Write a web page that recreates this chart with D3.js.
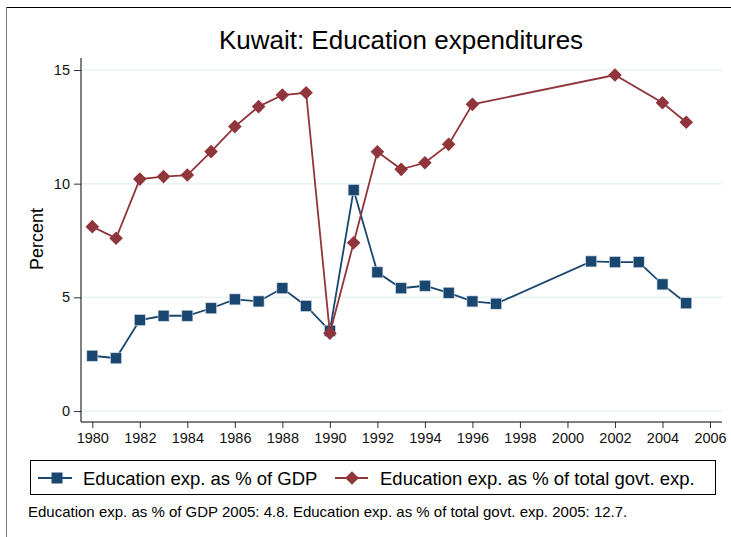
<!DOCTYPE html>
<html>
<head>
<meta charset="utf-8">
<script src="https://cdn.jsdelivr.net/npm/d3@7"></script>
<style>
  body { margin: 0; background: #fff; }
  svg { display: block; font-family: "Liberation Sans", Arial, sans-serif; }
</style>
</head>
<body>
<div id="chart"></div>
<script>
// datos
const years = [1980, 1981, 1982, 1983, 1984, 1985, 1986, 1987, 1988, 1989,
               1990, 1991, 1992, 1993, 1994, 1995, 1996, 1997, 1998, 1999,
               2000, 2001, 2002, 2003, 2004, 2005];
const gdpShare = [2.43, 2.32, 4.0, 4.19, 4.19, 4.52, 4.91, 4.82, 5.4, 4.62,
                  3.53, 9.72, 6.1, 5.4, 5.51, 5.2, 4.82, 4.72, null, null,
                  null, 6.58, 6.55, 6.55, 5.57, 4.74];
const govtShare = [8.11, 7.6, 10.2, 10.31, 10.38, 11.41, 12.51, 13.39, 13.9, 14.0,
                   3.42, 7.4, 11.4, 10.63, 10.92, 11.73, 13.49, null, null, null,
                   null, null, 14.78, null, 13.56, 12.7];
const xTicks = d3.range(1980, 2007, 2);
const yTicks = [0, 5, 10, 15];
const seriesNames = ['Education exp. as % of GDP', 'Education exp. as % of total govt. exp.'];
const titleText = 'Kuwait: Education expenditures';
const noteText = 'Education exp. as % of GDP 2005: 4.8. Education exp. as % of total govt. exp. 2005: 12.7.';

const navy = '#1a476f';
const maroon = '#90353b';
const FONT = '"Liberation Sans", Arial, sans-serif';

const width = 731, height = 537;
const svg = d3.select('#chart').append('svg')
    .attr('width', width)
    .attr('height', height);

// marco exterior
svg.append('line').attr('x1', 6).attr('x2', width).attr('y1', 7.5).attr('y2', 7.5)
    .attr('stroke', '#000').attr('stroke-width', 1.2);
svg.append('line').attr('x1', 6.5).attr('x2', 6.5).attr('y1', 7).attr('y2', height)
    .attr('stroke', '#777').attr('stroke-width', 1);

const plot = { left: 81, right: 722, top: 58, bottom: 422 };

const x = d3.scaleLinear().domain([1980, 2006]).range([92.3, 710]);
const y = d3.scaleLinear().domain([0, 15]).range([411, 70]);

// título
svg.append('text')
    .attr('x', 401).attr('y', 49)
    .attr('text-anchor', 'middle')
    .attr('font-size', 26)
    .attr('fill', '#000')
    .text(titleText);

// rejilla
svg.append('g').selectAll('line')
    .data(yTicks)
    .enter().append('line')
    .attr('x1', plot.left + 1).attr('x2', plot.right)
    .attr('y1', d => y(d)).attr('y2', d => y(d))
    .attr('stroke', '#eaf2f3').attr('stroke-width', 1.5);

// eje Y
const yAxis = svg.append('g')
    .attr('transform', `translate(${plot.left},0)`)
    .call(d3.axisLeft(y).tickValues(yTicks).tickSize(7).tickPadding(4).tickSizeOuter(0));
yAxis.select('.domain').remove();
yAxis.append('line').attr('x1', 0).attr('x2', 0).attr('y1', plot.top).attr('y2', plot.bottom)
    .attr('stroke', '#000').attr('stroke-width', 1);
yAxis.selectAll('.tick line').attr('stroke', '#333');
yAxis.selectAll('.tick text').attr('font-size', 14.5).attr('fill', '#111')
    .attr('font-family', FONT);

// eje X
const xAxis = svg.append('g')
    .attr('transform', `translate(0,${plot.bottom})`)
    .call(d3.axisBottom(x).tickValues(xTicks).tickFormat(d3.format('d')).tickSize(6).tickPadding(5).tickSizeOuter(0));
xAxis.select('.domain').remove();
xAxis.append('line').attr('x1', plot.left).attr('x2', plot.right).attr('y1', 0).attr('y2', 0)
    .attr('stroke', '#000').attr('stroke-width', 1);
xAxis.selectAll('.tick line').attr('stroke', '#333');
xAxis.selectAll('.tick text').attr('font-size', 14.5).attr('fill', '#111')
    .attr('font-family', FONT);

// etiqueta Y
svg.append('text')
    .attr('transform', `translate(43,239) rotate(-90)`)
    .attr('text-anchor', 'middle')
    .attr('font-size', 18)
    .attr('fill', '#000')
    .text('Percent');

function seriesPoints(vals) {
    return years.map((yr, i) => ({ year: yr, value: vals[i] })).filter(d => d.value !== null);
}

const line = d3.line().x(d => x(d.year)).y(d => y(d.value));

function diamondPath(s) {
    return `M0,${-s}L${s},0L0,${s}L${-s},0Z`;
}

const gdpPts = seriesPoints(gdpShare);
const govPts = seriesPoints(govtShare);

// línea PIB
svg.append('path').datum(gdpPts)
    .attr('d', line).attr('fill', 'none')
    .attr('stroke', navy).attr('stroke-width', 1.8);
svg.append('g').selectAll('rect')
    .data(gdpPts)
    .enter().append('rect')
    .attr('x', d => x(d.year) - 5.5).attr('y', d => y(d.value) - 5.5)
    .attr('width', 11).attr('height', 11)
    .attr('fill', navy).attr('stroke', '#d0dbe6').attr('stroke-width', 0.6);

// línea gasto total
svg.append('path').datum(govPts)
    .attr('d', line).attr('fill', 'none')
    .attr('stroke', maroon).attr('stroke-width', 1.8);
svg.append('g').selectAll('path')
    .data(govPts)
    .enter().append('path')
    .attr('transform', d => `translate(${x(d.year)},${y(d.value)})`)
    .attr('d', diamondPath(6.8))
    .attr('fill', maroon);

// leyenda
const legend = svg.append('g');
legend.append('rect')
    .attr('x', 30.5).attr('y', 460.5).attr('width', 685).attr('height', 34)
    .attr('fill', '#fff').attr('stroke', '#000').attr('stroke-width', 1);

legend.append('line').attr('x1', 38).attr('x2', 72).attr('y1', 478).attr('y2', 478)
    .attr('stroke', navy).attr('stroke-width', 1.8);
legend.append('rect').attr('x', 51.5).attr('y', 472.5).attr('width', 11).attr('height', 11)
    .attr('fill', navy);
legend.append('text').attr('x', 83).attr('y', 485)
    .attr('font-size', 18.5).attr('fill', '#000').text(seriesNames[0]);

legend.append('line').attr('x1', 335).attr('x2', 368).attr('y1', 478).attr('y2', 478)
    .attr('stroke', maroon).attr('stroke-width', 1.8);
legend.append('path').attr('transform', 'translate(352,478)')
    .attr('d', diamondPath(6.8)).attr('fill', maroon);
legend.append('text').attr('x', 380).attr('y', 485)
    .attr('font-size', 18.5).attr('fill', '#000').text(seriesNames[1]);

// nota
svg.append('text').attr('x', 28).attr('y', 517)
    .attr('font-size', 15).attr('fill', '#000').text(noteText);
</script>
</body>
</html>
